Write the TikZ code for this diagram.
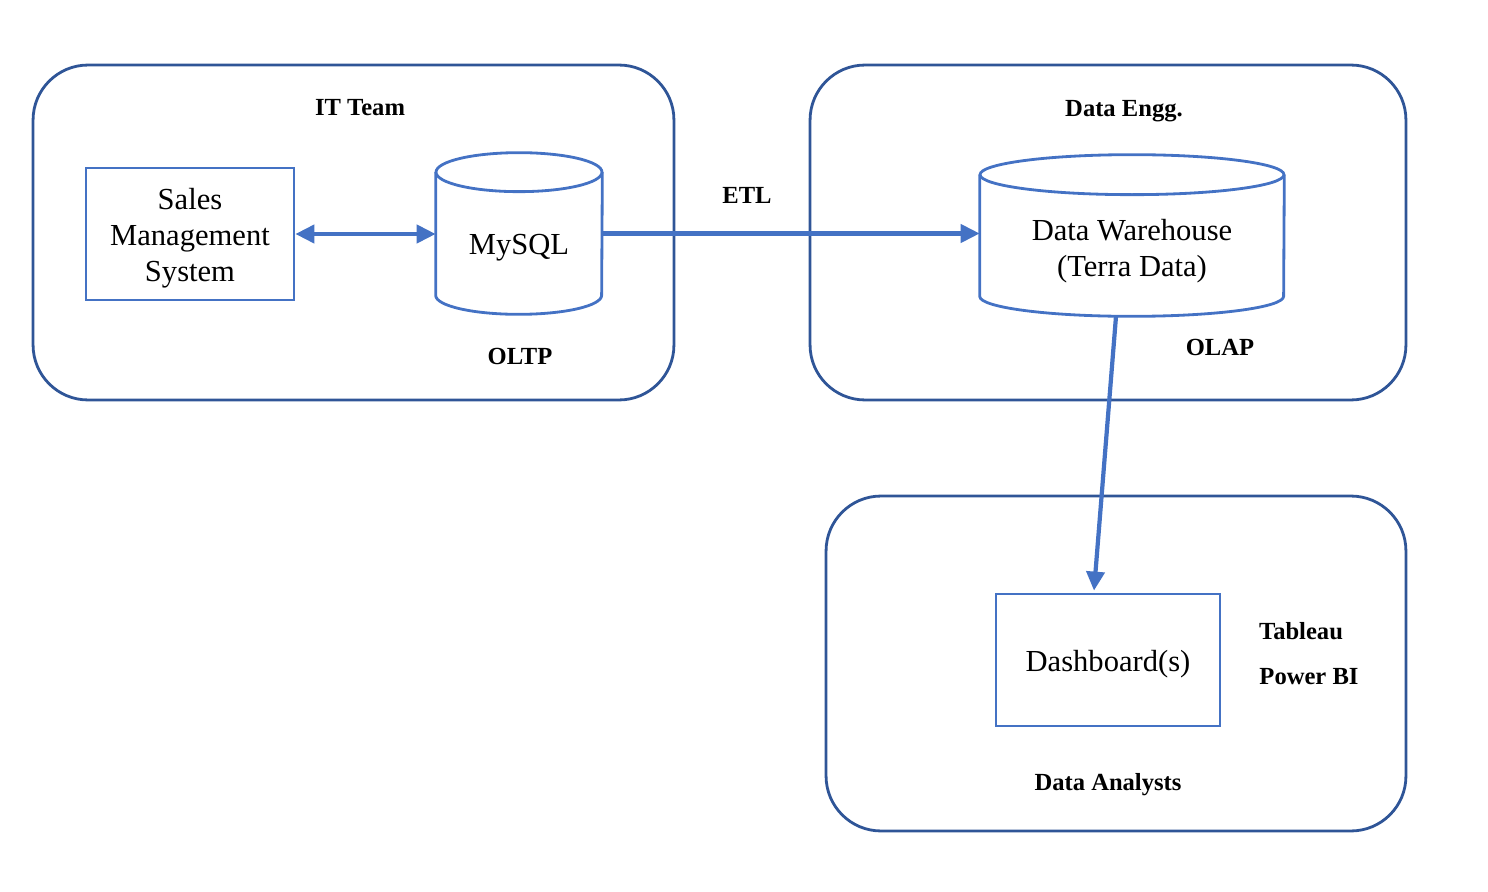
\documentclass[tikz,border=0pt]{standalone}
\usepackage{fontspec}
\setmainfont{Liberation Serif}
\usetikzlibrary{arrows.meta}
\definecolor{lineblue}{RGB}{68,114,196}
\definecolor{frameblue}{RGB}{47,85,151}
\tikzset{
  group/.style={draw=frameblue, line width=1.6pt, rounded corners=1.1cm, minimum height=6.7cm, inner sep=0pt},
  block/.style={draw=lineblue, line width=1.6pt, inner sep=0pt},
  dbspace/.style={inner sep=0pt, minimum height=3.22cm},
  inner/.style={align=center, font=\fontsize{17.4}{20.6}\selectfont},
  dbline/.style={draw=lineblue, line width=1.6pt},
  tag/.style={font=\fontsize{14}{16}\selectfont\bfseries},
  flow/.style={draw=lineblue, line width=2.4pt, -{Triangle[length=0.38cm,width=0.36cm]}},
}
\begin{document}
\begin{tikzpicture}[x=0.02cm, y=-0.02cm]
  \useasboundingbox (0,0) rectangle (1488,892);

  % the three teams
  \node[group, minimum width=12.82cm] (itgrp) at (353.5,232.5) {};
  \node[group, minimum width=11.92cm] (enggrp) at (1108,232.5) {};
  \node[group, minimum width=11.6cm] (angrp) at (1116,663.5) {};

  \node[tag] (itlbl) at (360,108) {IT Team};
  \node[tag] (englbl) at (1124,111) {Data Engg.};
  \node[tag] (anlbl) at (1108,785) {Data Analysts};

  % boxes
  \node[block, minimum width=4.16cm, minimum height=2.64cm,
    label={[inner, yshift=-0.09cm]center:Sales\\Management\\System}] (sms) at (190,234) {};
  \node[block, minimum width=4.48cm, minimum height=2.64cm,
    label={[inner, yshift=-0.09cm]center:Dashboard(s)}] (dash) at (1108,660) {};

  % databases
  \node[dbspace, minimum width=3.32cm, label={[inner, yshift=-0.29cm]center:MySQL}] (mysql) at (519,233.5) {};
  \draw[dbline] ([yshift=-0.39cm]mysql.north) ellipse [x radius=1.66cm, y radius=0.39cm];
  \draw[dbline] ([yshift=-0.39cm]mysql.north west) -- ([yshift=0.38cm]mysql.south west)
    arc[start angle=180, end angle=360, x radius=1.66cm, y radius=0.38cm]
    -- ([yshift=-0.39cm]mysql.north east);

  \node[dbspace, minimum width=6.08cm, label={[inner, yshift=-0.31cm]center:Data Warehouse\\(Terra Data)}] (dw) at (1132,235.5) {};
  \draw[dbline] ([yshift=-0.4cm]dw.north) ellipse [x radius=3.04cm, y radius=0.4cm];
  \draw[dbline] ([yshift=-0.4cm]dw.north west) -- ([yshift=0.4cm]dw.south west)
    arc[start angle=180, end angle=360, x radius=3.04cm, y radius=0.4cm]
    -- ([yshift=-0.4cm]dw.north east);

  \node[tag] (oltp) at (520,356) {OLTP};
  \node[tag] (olap) at (1220,347) {OLAP};
  \node[tag] (etl) at (747,195) {ETL};
  \node[tag] (tabl) at (1301,631) {Tableau};
  \node[tag] (pbi) at (1309,677) {Power BI};

  % flows
  \draw[flow, {Triangle[length=0.38cm,width=0.36cm]}-{Triangle[length=0.38cm,width=0.36cm]}] (sms.east) -- (sms.east -| mysql.west);
  \draw[flow] (mysql.east) -- (mysql.east -| dw.west);
  \draw[flow] ([xshift=-0.32cm]dw.south) -- ([xshift=-0.28cm, yshift=0.04cm]dash.north);
\end{tikzpicture}
\end{document}
